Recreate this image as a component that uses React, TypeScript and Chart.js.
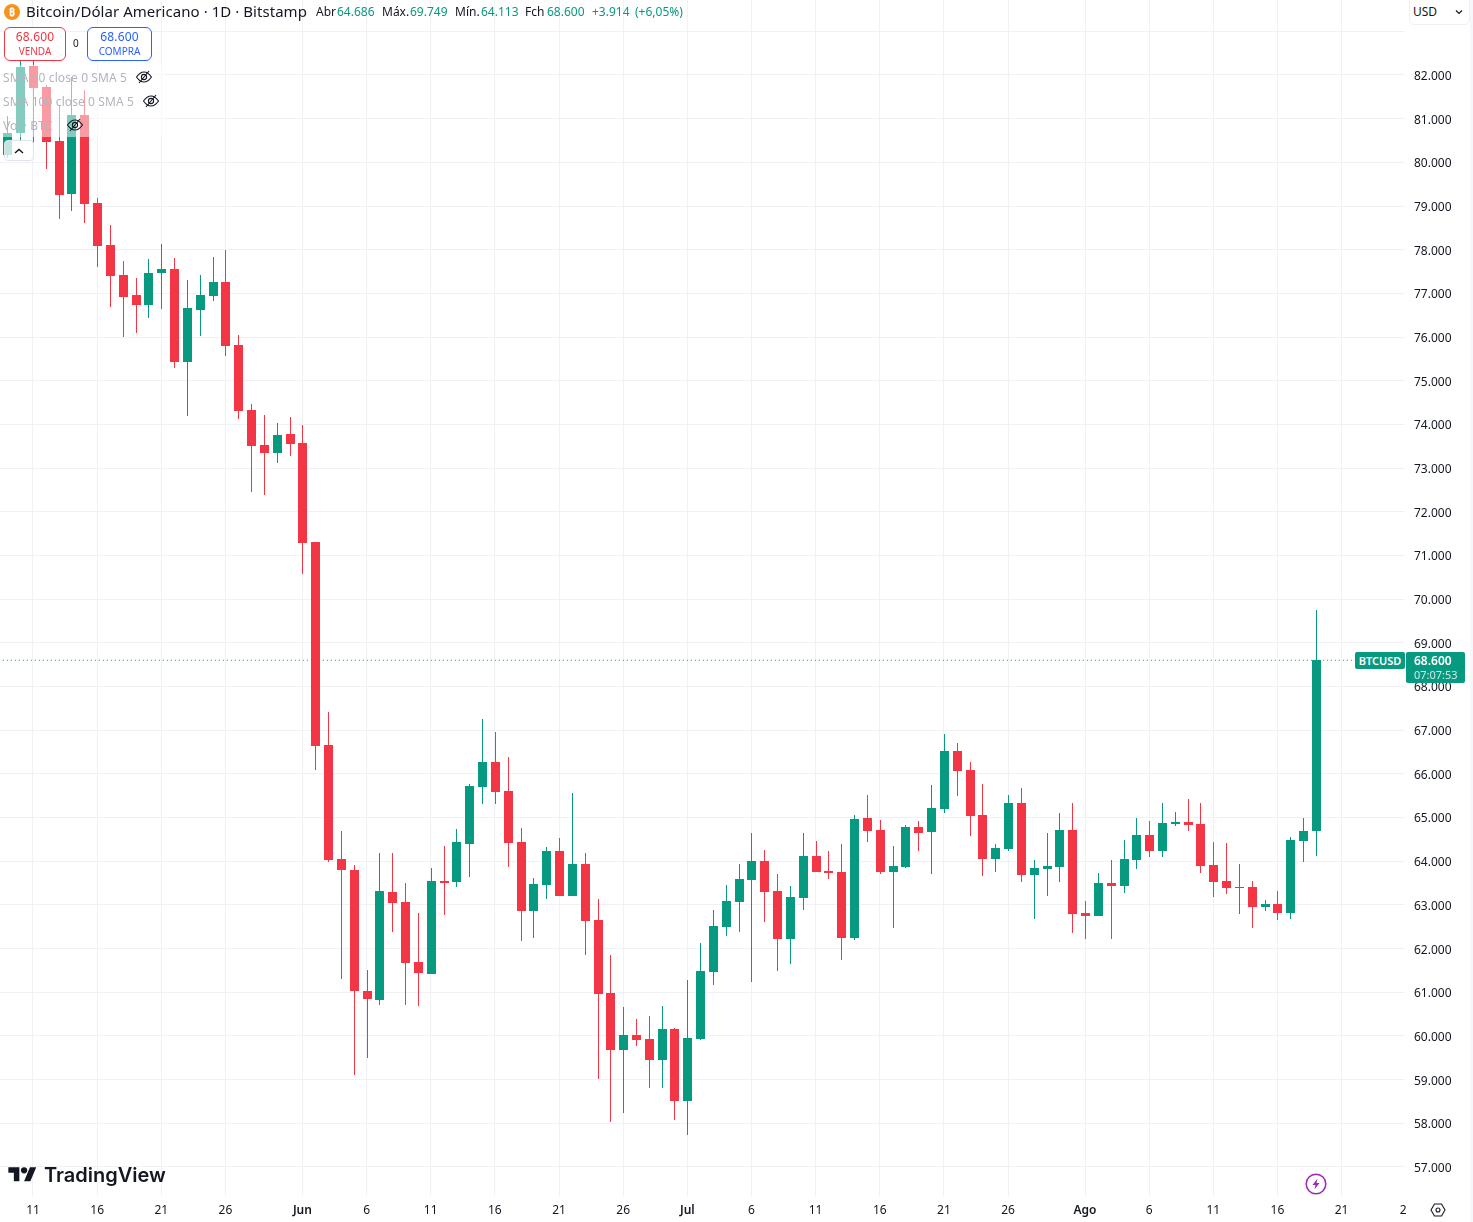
import React, { useEffect, useRef } from "react";
import { Chart, registerables } from "chart.js";

Chart.register(...registerables);

const opens = [80168,80672,82206,81725,80489,79276,81084,79070,78108,77421,76963,76734,77467,77559,75429,76620,76940,77261,75819,74330,73529,73346,73781,73575,71309,66661,64051,63799,61029,60823,63296,63067,61693,61418,63547,63525,64394,65699,66272,65608,64440,62861,63456,64234,63204,63937,62655,60983,59678,60022,59930,59449,60159,58511,59930,61464,62494,63067,63570,64005,63318,62220,63158,64120,63776,63753,62242,64990,64715,63753,63868,64784,64669,65196,66524,66089,65058,64051,64280,65333,63685,63822,63868,64715,62815,62746,63502,63433,64028,64600,64234,64852,64898,64852,63914,63547,63387,63410,62952,63021,62815,64463,64686];
const highs = [81061,82343,82389,81771,81313,81954,81657,79184,78566,77742,77352,77787,78131,77810,77307,77421,77833,77993,76048,74468,74216,74033,74170,73987,71309,67416,64692,63914,61510,64188,64188,63502,62815,63845,64349,64738,65768,67256,66959,66386,64761,63616,64326,64532,65562,64188,63135,61853,60663,60388,60457,60686,60182,61281,62128,62883,63456,63937,64646,64257,63708,63433,64646,64463,64234,64394,65058,65516,64944,64349,64829,64921,65745,66913,66707,66272,65768,64394,65516,65677,64028,64646,65104,65333,63090,63731,64028,64486,64990,64921,65333,65127,65425,65333,64440,64418,63937,63547,63112,63318,64555,64990,69749];
const lows = [80100,80512,80443,79848,78703,78886,78612,77604,76689,76002,76093,76437,76643,75292,74193,76025,76826,75567,74124,72453,72384,73117,73277,70576,66089,63982,61304,59106,59495,60709,62380,60709,60686,61418,62769,63410,63639,65310,65310,63868,62174,62242,63135,63204,63204,61853,59014,58030,58236,59770,58808,58808,58076,57732,59907,61166,62288,62380,61235,62609,61487,61647,62883,63753,63593,61739,62197,64440,63708,62471,63845,64234,63708,65104,65493,64578,63662,63753,64234,63525,62677,63204,63525,62357,62220,62746,62220,63273,63822,64097,64097,64807,64692,63731,63181,63250,62792,62471,62861,62655,62677,63982,64113];
const closes = [80672,82183,81702,80466,79253,81084,79047,78085,77398,76917,76734,77467,77559,75429,76666,76963,77261,75796,74308,73506,73346,73758,73552,71286,66638,64028,63799,61029,60846,63318,63044,61670,61441,63547,63502,64440,65722,66272,65585,64417,62861,63479,64234,63204,63937,62632,60960,59678,60022,59907,59449,60159,58511,59953,61487,62517,63090,63593,64005,63296,62220,63181,64120,63753,63731,62242,64967,64692,63753,63891,64784,64646,65219,66524,66066,65035,64051,64303,65333,63685,63845,63891,64715,62792,62746,63502,63433,64051,64600,64234,64875,64898,64829,63891,63525,63387,63410,62952,63021,62815,64486,64692,68600];

const timeTickIndex = [2,7,12,17,23,28,33,38,43,48,53,58,63,68,73,78,84,89,94,99,104,108.8];
const timeTickLabels = ["11","16","21","26","Jun","6","11","16","21","26","Jul","6","11","16","21","26","Ago","6","11","16","21","2"];
const monthLabels = ["Jun","Jul","Ago"];
const priceTicks = [83000,82000,81000,80000,79000,78000,77000,76000,75000,74000,73000,72000,71000,70000,69000,68000,67000,66000,65000,64000,63000,62000,61000,60000,59000,58000,57000];
const lastPrice = 68600;

const UP = "#089981";
const DOWN = "#F23645";
const GRID = "#f0f1f5";
const FONT = '"Noto Sans", sans-serif';
const TEXT = "#131722";

const priceText = (v: number) => {
  const s = String(v);
  return s.slice(0, -3) + "." + s.slice(-3);
};

const snapBars = {
  id: "snapBars",
  afterDatasetsUpdate(chart: any) {
    chart.data.datasets.forEach((ds: any, i: number) => {
      if (ds.type !== "bar") return;
      chart.getDatasetMeta(i).data.forEach((el: any) => {
        el.x = Math.round(el.x) + 0.5;
        el.y = Math.round(el.y);
        el.base = Math.round(el.base);
      });
    });
  },
};

const clearPadding = (a: any) => {
  a.paddingTop = 0;
  a.paddingBottom = 0;
  a.paddingLeft = 0;
  a.paddingRight = 0;
};

const T = (p: { x: number; y: number; s?: number; c?: string; w?: number; ls?: number; children: any }) => (
  <div style={{ position: "absolute", left: p.x, top: p.y, lineHeight: "16px", height: 16, fontSize: p.s ?? 12, color: p.c ?? TEXT, fontWeight: p.w ?? 400, letterSpacing: p.ls ?? 0, whiteSpace: "nowrap", fontFamily: FONT }}>
    {p.children}
  </div>
);

const Eye = ({ x, y }: { x: number; y: number }) => (
  <svg style={{ position: "absolute", left: x - 9, top: y - 8 }} width="18" height="16" viewBox="0 0 18 16" fill="none" stroke="#131722" strokeWidth="1.1">
    <path d="M1.5 8C4 4.5 6.5 3 9 3s5 1.500 7.500 5C14 11.500 11.500 13 9 13S4 11.500 1.500 8z" />
    <circle cx="9" cy="8" r="2.600" />
    <path d="M4 14L14 2" />
  </svg>
);

export default function App() {
  const ref = useRef<HTMLCanvasElement>(null);

  useEffect(() => {
    document.body.style.margin = "0";
    const xs = opens.map((_, i) => i);
    const colors = opens.map((o, i) => (closes[i] >= o ? UP : DOWN));
    const chart = new Chart(ref.current as HTMLCanvasElement, {
      type: "bar",
      data: {
        datasets: [
          {
            type: "line",
            data: [{ x: -0.35, y: lastPrice }, { x: 105.4, y: lastPrice }],
            borderColor: UP,
            borderWidth: 1,
            borderDash: [1, 3],
            pointRadius: 0,
            order: 3,
          },
          {
            type: "bar",
            data: xs.map((x) => ({ x, y: [lows[x], highs[x]] })),
            backgroundColor: colors,
            barThickness: 1,
            grouped: false,
            borderWidth: 0,
            inflateAmount: 0,
            order: 2,
          },
          {
            type: "bar",
            data: xs.map((x) => ({ x, y: [opens[x], closes[x]] })),
            backgroundColor: colors,
            barThickness: 9,
            grouped: false,
            borderWidth: 0,
            inflateAmount: 0,
            order: 1,
          },
        ] as any,
      },
      options: {
        responsive: false,
        devicePixelRatio: 1,
        animation: false,
        events: [],
        layout: { padding: 0 },
        plugins: { legend: { display: false }, tooltip: { enabled: false } },
        scales: {
          x: {
            type: "linear",
            offset: false,
            min: -0.572,
            max: 108.94,
            afterFit: (a: any) => { a.height = 26; clearPadding(a); },
            afterBuildTicks: (a: any) => { a.ticks = timeTickIndex.map((value) => ({ value })); },
            grid: {
              offset: false,
              color: (c: any) => (c.tick && c.tick.value === 108.8 ? "rgba(0,0,0,0)" : GRID),
              drawTicks: false,
            },
            border: { display: false },
            ticks: {
              autoSkip: false,
              maxRotation: 0,
              padding: 7,
              color: TEXT,
              font: (c: any) => ({
                family: FONT,
                size: 12,
                weight: c.tick && monthLabels.includes(timeTickLabels[timeTickIndex.indexOf(c.tick.value)]) ? 600 : 400,
              }),
              callback: (v: any) => timeTickLabels[timeTickIndex.indexOf(v)],
            },
          },
          y: {
            type: "linear",
            position: "right",
            min: 56336,
            max: 83717,
            afterFit: (a: any) => { a.width = 68; clearPadding(a); },
            afterBuildTicks: (a: any) => { a.ticks = priceTicks.map((value) => ({ value })); },
            grid: { color: GRID, drawTicks: false },
            border: { display: false },
            ticks: {
              autoSkip: false,
              padding: 9,
              labelOffset: 1.5,
              color: TEXT,
              font: { family: FONT, size: 12 },
              callback: (v: any) => (v === 83000 ? "" : priceText(v)),
            },
          },
        },
      },
      plugins: [snapBars],
    } as any);
    return () => chart.destroy();
  }, []);

  return (
    <div style={{ position: "absolute", left: 0, top: 0, width: 1473, height: 1222, overflow: "hidden", background: "#fff", fontFamily: FONT }}>
      <canvas ref={ref} width={1473} height={1222} style={{ position: "absolute", left: 0, top: 0, display: "block" }} />

      {/* faded legend backdrop */}
      <div style={{ position: "absolute", left: 0, top: 65, width: 165, height: 72, background: "rgba(255,255,255,0.5)" }} />

      {/* header */}
      <svg style={{ position: "absolute", left: 4, top: 4 }} width="16" height="16" viewBox="0 0 16 16">
        <circle cx="8" cy="8" r="8" fill="#F7931A" />
        <text x="8" y="12" textAnchor="middle" fontSize="11" fontWeight="700" fill="#fff" fontFamily={FONT}>₿</text>
      </svg>
      <T x={26} y={3} s={15} ls={0.05}>Bitcoin/Dólar Americano · 1D · Bitstamp</T>
      <T x={316} y={4}>Abr</T>
      <T x={337} y={4} c={UP}>64.686</T>
      <T x={382} y={4}>Máx.</T>
      <T x={410} y={4} c={UP}>69.749</T>
      <T x={455} y={4}>Mín.</T>
      <T x={481} y={4} c={UP}>64.113</T>
      <T x={525} y={4}>Fch</T>
      <T x={547} y={4} c={UP}>68.600</T>
      <T x={592} y={4} c={UP}>+3.914</T>
      <T x={635} y={4} c={UP}>(+6,05%)</T>

      {/* order buttons */}
      <div style={{ position: "absolute", left: 4, top: 27, width: 60, height: 32, border: `1px solid ${DOWN}`, borderRadius: 6, background: "#fff", textAlign: "center", color: DOWN, fontFamily: FONT }}>
        <div style={{ fontSize: 12, lineHeight: "17px", letterSpacing: 0.2 }}>68.600</div>
        <div style={{ fontSize: 10, lineHeight: "13px" }}>VENDA</div>
      </div>
      <T x={73} y={35} s={10}>0</T>
      <div style={{ position: "absolute", left: 87, top: 27, width: 63, height: 32, border: "1px solid #2962FF", borderRadius: 6, background: "#fff", textAlign: "center", color: "#2962FF", fontFamily: FONT }}>
        <div style={{ fontSize: 12, lineHeight: "17px", letterSpacing: 0.2 }}>68.600</div>
        <div style={{ fontSize: 10, lineHeight: "13px" }}>COMPRA</div>
      </div>

      {/* hidden indicators */}
      <T x={3} y={70} c="#b2b5be" ls={0.1}>SMA 50 close 0 SMA 5</T>
      <Eye x={144} y={77} />
      <T x={3} y={94} c="#b2b5be" ls={0.1}>SMA 100 close 0 SMA 5</T>
      <Eye x={151} y={101} />
      <T x={3} y={118} c="#b2b5be" ls={0.1}>Vol · BTC</T>
      <Eye x={75} y={125} />
      <div style={{ position: "absolute", left: 4, top: 140, width: 28, height: 19, border: "1px solid #e0e3eb", borderRadius: 4, background: "rgba(255,255,255,0.75)" }}>
        <svg width="28" height="19" viewBox="0 0 28 19" fill="none" stroke="#131722" strokeWidth="1.4">
          <path d="M10 12l4-3.500 4 3.500" />
        </svg>
      </div>

      {/* currency selector */}
      <div style={{ position: "absolute", left: 1409, top: -1, width: 59, height: 24, border: "1px solid #eef0f5", borderRadius: "0 0 5px 5px", background: "#fff" }} />
      <T x={1413} y={4} s={12}>USD</T>
      <svg style={{ position: "absolute", left: 1455, top: 9 }} width="8" height="6" viewBox="0 0 8 6" fill="none" stroke="#131722" strokeWidth="1.200">
        <path d="M1 1.500l3 3 3-3" />
      </svg>
      <div style={{ position: "absolute", left: 1470, top: 0, width: 3, height: 1222, background: "#f6f7fa" }} />

      {/* price tags */}
      <div style={{ position: "absolute", left: 1355, top: 652, width: 50, height: 17, background: UP, borderRadius: 2, color: "#fff", fontSize: 11, lineHeight: "17px", fontWeight: 600, textAlign: "center", fontFamily: FONT }}>BTCUSD</div>
      <div style={{ position: "absolute", left: 1406, top: 652, width: 59, height: 31, background: UP, borderRadius: 2, fontFamily: FONT, fontWeight: 600 }}>
        <div style={{ position: "absolute", left: 8, top: 1, fontSize: 12, lineHeight: "15px", color: "#fff" }}>68.600</div>
        <div style={{ position: "absolute", left: 8, top: 15, fontSize: 11, lineHeight: "15px", color: "rgba(255,255,255,0.8)", fontWeight: 400 }}>07:07:53</div>
      </div>

      {/* logo */}
      <svg style={{ position: "absolute", left: 7, top: 1164 }} width="31" height="22" viewBox="0 0 36 28" fill="#131722">
        <path d="M14 22H7V11H0V4h14v18zM28 22h-8l7.500-18h8L28 22z" />
        <circle cx="20" cy="8" r="4" />
      </svg>
      <div style={{ position: "absolute", left: 44, top: 1161, lineHeight: "28px", fontSize: 20, fontWeight: 600, color: "#131722", fontFamily: '"Inter", sans-serif', whiteSpace: "nowrap" }}>TradingView</div>

      {/* bolt */}
      <svg style={{ position: "absolute", left: 1305, top: 1173 }} width="22" height="22" viewBox="0 0 22 22">
        <circle cx="11" cy="11" r="9.800" fill="#fff" stroke="#9c27b0" strokeWidth="1.500" />
        <path d="M12.500 5.500L7.500 12h3l-1 4.500 5-6.500h-3z" fill="#9c27b0" />
      </svg>

      {/* settings */}
      <svg style={{ position: "absolute", left: 1430, top: 1202 }} width="16" height="16" viewBox="0 0 16 16" fill="none" stroke="#131722" strokeWidth="1.100">
        <path d="M4.500 2h7L15 8l-3.500 6h-7L1 8z" />
        <circle cx="8" cy="8" r="2" />
      </svg>
    </div>
  );
}
